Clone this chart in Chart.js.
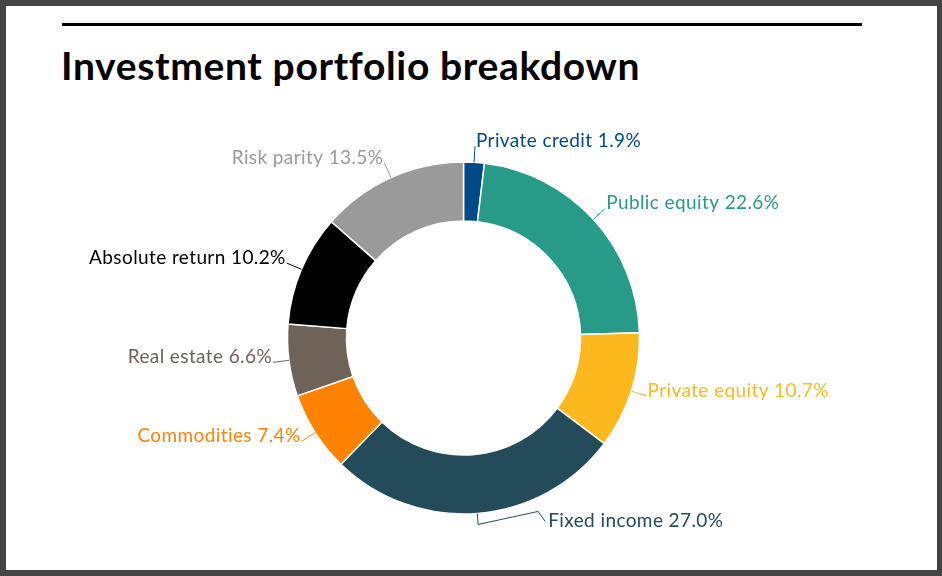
<!DOCTYPE html>
<html>
<head>
<meta charset="utf-8">
<script src="https://cdn.jsdelivr.net/npm/chart.js"></script>
<style>
  html, body { margin: 0; padding: 0; }
  body { width: 942px; height: 576px; background: #444; position: relative; overflow: hidden; }
  #frame { position: absolute; left: 6px; top: 6px; right: 5px; bottom: 6px; background: #fff; }
  #rule { position: absolute; left: 62px; top: 23px; width: 800px; height: 3px; background: #000; }
  #title { position: absolute; left: 61px; top: 42px; margin: 0; font: 700 39px Lato, sans-serif; color: #000; letter-spacing: 0.65px; }
  #wrap { position: absolute; left: 0; top: 0; width: 942px; height: 576px; }
</style>
</head>
<body>
<div id="frame"></div>
<div id="rule"></div>
<h1 id="title">Investment portfolio breakdown</h1>
<div id="wrap"><canvas id="chart"></canvas></div>
<script>
// Datos del gráfico (orden horario desde las 12)
const categorias = ['Private credit', 'Public equity', 'Private equity', 'Fixed income',
  'Commodities', 'Real estate', 'Absolute return', 'Risk parity'];
const porcentajes = [1.9, 22.6, 10.7, 27.0, 7.4, 6.6, 10.2, 13.5];
const colores = ['#004b87', '#279b88', '#fdb81e', '#244b5a', '#ff8300', '#6e6259', '#000000', '#9a9a9a'];

// Etiquetas con línea guía, al estilo de la referencia
const etiquetasPlugin = {
  id: 'etiquetas',
  afterDatasetsDraw(chart, args, opts) {
    const ctx = chart.ctx;
    const meta = chart.getDatasetMeta(0);
    ctx.save();
    ctx.font = opts.font;
    ctx.letterSpacing = opts.spacing;
    ctx.lineWidth = 1;
    ctx.textBaseline = 'alphabetic';
    meta.data.forEach((arc, i) => {
      const mid = (arc.startAngle + arc.endAngle) / 2;
      const c = Math.cos(mid), s = Math.sin(mid);
      const r = arc.outerRadius;
      const x0 = arc.x + c * r, y0 = arc.y + s * r;
      const texto = `${categorias[i]} ${porcentajes[i].toFixed(1)}%`;
      ctx.strokeStyle = colores[i];
      ctx.fillStyle = colores[i];
      ctx.beginPath();
      ctx.moveTo(x0, y0);
      const n = opts.nudge[i];
      if (n) {
        // conector quebrado hacia la derecha (etiqueta desplazada)
        const x1 = arc.x + c * (r + 11), y1 = arc.y + s * (r + 11);
        const lx = x1 + n.dx, ly = y1 + n.dy;
        ctx.lineTo(x1, y1);
        ctx.lineTo(lx - 10, ly - 16);
        ctx.lineTo(lx - 3, ly - 6);
        ctx.stroke();
        ctx.textAlign = 'left';
        ctx.fillText(texto, lx, ly);
      } else {
        const x1 = arc.x + c * (r + opts.dist), y1 = arc.y + s * (r + opts.dist);
        ctx.lineTo(x1, y1);
        ctx.stroke();
        const derecha = c >= 0;
        ctx.textAlign = derecha ? 'left' : 'right';
        ctx.fillText(texto, x1 + (derecha ? 1 : -1), y1 + 1);
      }
    });
    ctx.restore();
  }
};

new Chart(document.getElementById('chart').getContext('2d'), {
  type: 'doughnut',
  data: {
    labels: categorias,
    datasets: [{
      data: porcentajes,
      backgroundColor: colores,
      borderColor: '#ffffff',
      borderWidth: 1.5,
      radius: 176
    }]
  },
  options: {
    responsive: true,
    maintainAspectRatio: false,
    animation: false,
    cutout: '66.5%',
    layout: { padding: { left: 0, right: 15, top: 100, bottom: 0 } },
    plugins: {
      legend: { display: false },
      tooltip: { enabled: false },
      etiquetas: {
        font: '19px Lato, sans-serif',
        spacing: '0.4px',
        dist: 16,
        nudge: { 3: { dx: 70, dy: 3 } }
      }
    }
  },
  plugins: [etiquetasPlugin]
});
</script>
</body>
</html>
